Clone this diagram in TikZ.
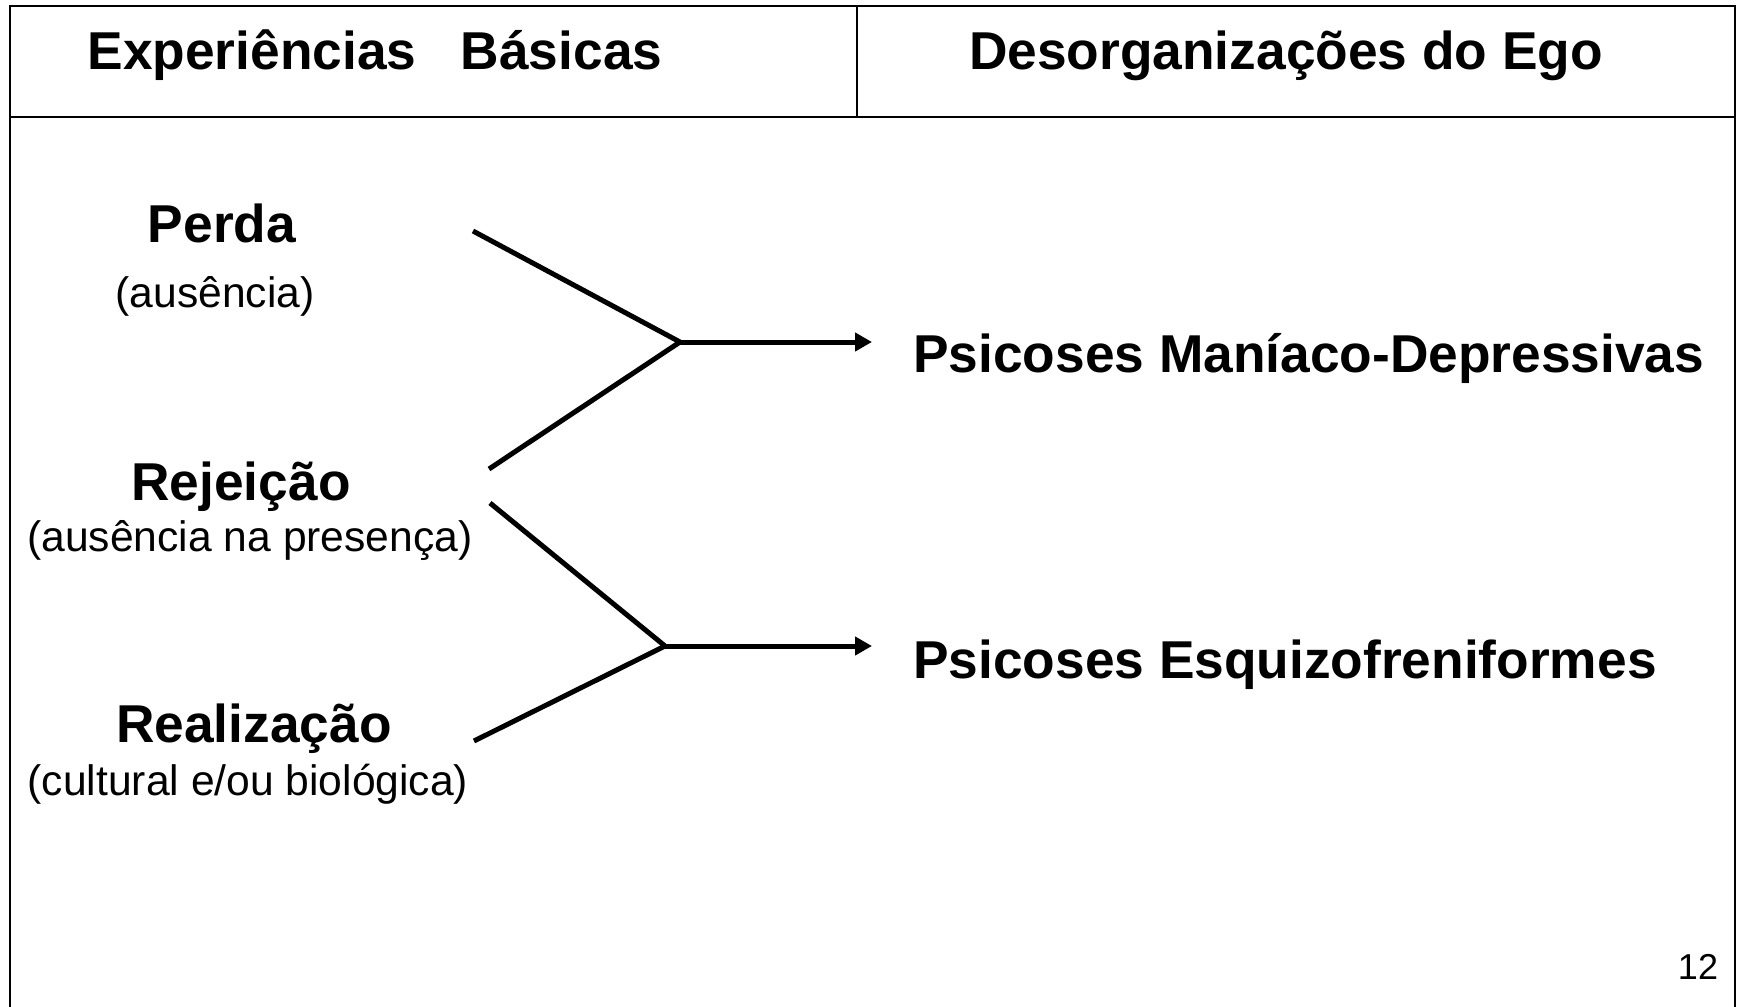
\documentclass[tikz,border=0pt]{standalone}
\usepackage{fontspec}
\setmainfont{Liberation Sans}
\usetikzlibrary{arrows.meta}

\begin{document}
\begin{tikzpicture}[x=1pt, y=-1pt,
                    frame/.style={line width=2.7pt},
                    head/.style={font=\fontsize{53.3}{60}\selectfont\bfseries, inner sep=0pt, anchor=base},
                    cat/.style={font=\fontsize{53.3}{60}\selectfont\bfseries, inner sep=0pt, anchor=base},
                    sub/.style={font=\fontsize{42.6}{48}\selectfont, inner sep=0pt, anchor=base},
                    result/.style={font=\fontsize{53.3}{60}\selectfont\bfseries, inner sep=0pt, anchor=base west},
                    link/.style={line width=5pt},
                    tip/.style={link, -{Triangle[length=17pt, width=18pt]}}]
\useasboundingbox (0,0) rectangle (1741,1007);

% Frame and header row
\draw[frame] (10,1010) |- (1735,6) -- (1735,1010);
\draw[frame] (10,117) -- (1735,117);
\draw[frame] (857,6) -- (857,117);

\node[head] (exper) at (375,69) {Experiências\ \ \ Básicas};
\node[head] (desorg) at (1286,69) {Desorganizações do Ego};

% Basic experiences
\node[cat] (perda) at (222,242) {Perda};
\node[sub] (perdasub) at (215,307) {(ausência)};
\node[cat] (rejeicao) at (241,500) {Rejeição};
\node[sub] (rejeicaosub) at (250,551) {(ausência na presença)};
\node[cat] (realiz) at (254,742) {Realização};
\node[sub] (realizsub) at (248,795) {(cultural e/ou biológica)};

% Ego disorganizations
\node[result] (maniaco) at (913,372) {Psicoses Maníaco-Depressivas};
\node[result] (esquizo) at (913,678) {Psicoses Esquizofreniformes};

\node[sub] (page) at (1698,979) {\fontsize{36}{40}\selectfont 12};

% Connectors
\coordinate (perdaend) at (473,231);
\coordinate (rejupper) at (489,469);
\coordinate (rejlower) at (490,503);
\coordinate (realizend) at (474,741);
\coordinate (joinA) at (680,342);
\coordinate (joinB) at (665,646);
\coordinate (tipA) at (872,342);
\coordinate (tipB) at (872,646);

\draw[link] (perdaend) -- (joinA);
\draw[link] (rejupper) -- (joinA);
\draw[tip] (joinA) -- (tipA);

\draw[link] (rejlower) -- (joinB);
\draw[link] (realizend) -- (joinB);
\draw[tip] (joinB) -- (tipB);

\end{tikzpicture}
\end{document}
